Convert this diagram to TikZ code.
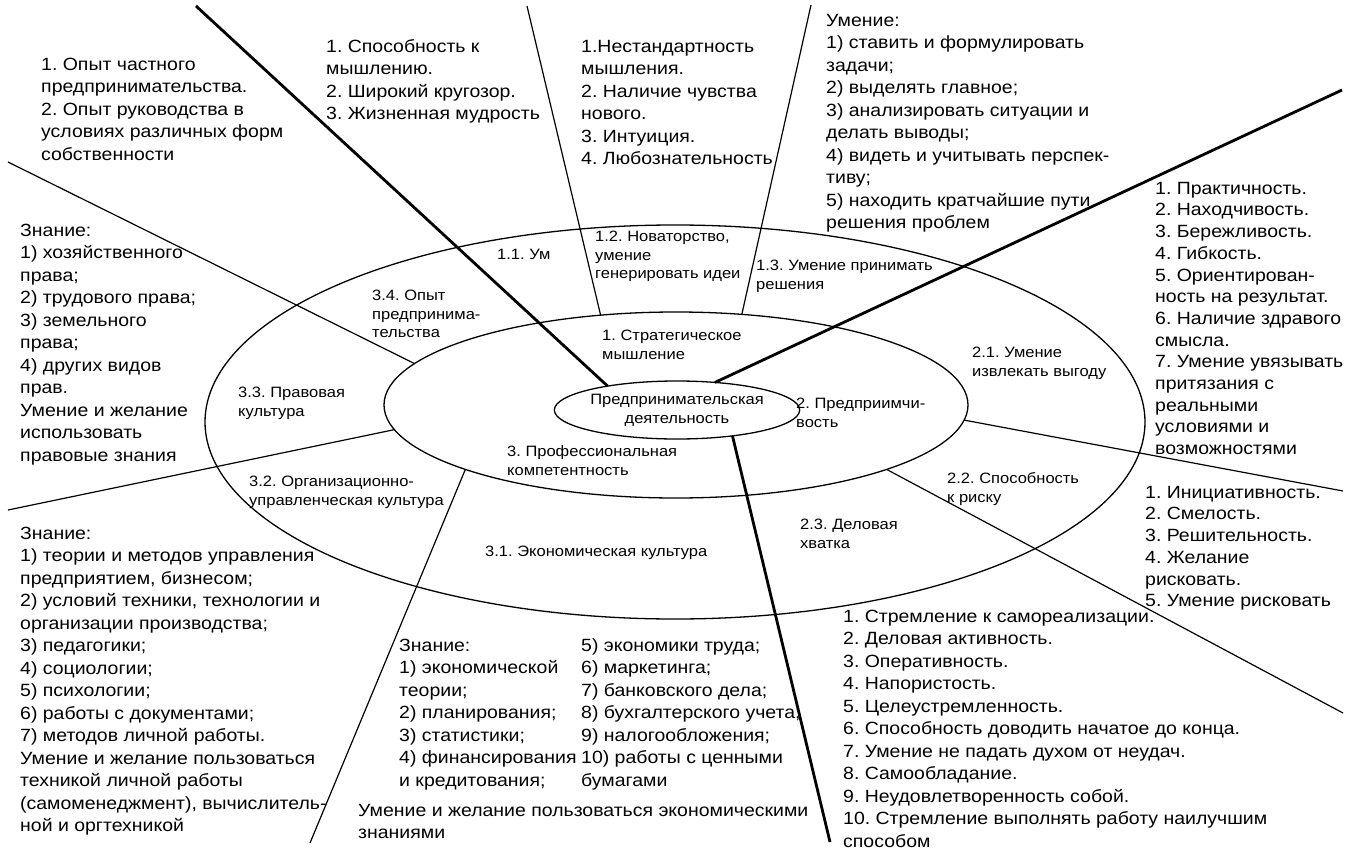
\documentclass[tikz,border=0pt]{standalone}
\usepackage{fontspec}
\setmainfont[FakeStretch=1.1]{Liberation Sans}
\usetikzlibrary{shapes.geometric}
\newcommand\bigstr{\rule{0pt}{15pt}}
\newcommand\smlstr{\rule{0pt}{12.5pt}}
\frenchspacing
\begin{document}
\frenchspacing
\begin{tikzpicture}[x=1pt,y=-1pt,
  big/.style={anchor=north west, inner sep=0pt, align=left, font=\fontsize{17.7}{22.5}\selectfont\frenchspacing},
  bigt/.style={big, font=\fontsize{17.7}{21.7}\selectfont\frenchspacing},
  sml/.style={anchor=north west, inner sep=0pt, align=left, font=\fontsize{15}{18.8}\selectfont\frenchspacing},
  thinline/.style={line width=1.2pt},
  thickline/.style={line width=2.8pt},
  ell/.style={draw, ellipse, line width=1.3pt, inner sep=0pt, outer sep=0pt}]
\useasboundingbox[fill=white] (0,0) rectangle (1366,854);

% ellipses
\node[ell, minimum width=940pt, minimum height=394pt] (O) at (675,422) {};
\node[ell, minimum width=584pt, minimum height=186pt] (M) at (676,405) {};
\node[ell, minimum width=216pt, minimum height=58pt, align=center,
      font=\fontsize{15}{19}\selectfont] (I) at (677,410) {Предпринимательская\\деятельность};

% free ends
\coordinate (c1) at (196,6);
\coordinate (c2) at (1342,90);
\coordinate (c3) at (830,842);
\coordinate (c4) at (527,6);
\coordinate (c5) at (811,5);
\coordinate (c6) at (8,162);
\coordinate (c7) at (8,510);
\coordinate (c8) at (310,843);
\coordinate (c9) at (1343,491);
\coordinate (c10) at (1343,713);

% spokes
\draw[thickline] (c1) -- (I.161.6);
\draw[thickline] (c2) -- (I.36.4);
\draw[thickline] (I.-25.7) -- (c3);
\draw[thinline] (c4) -- (M.130.2);
\draw[thinline] (c5) -- (M.54.9);
\draw[thinline] (c6) -- (M.171.5);
\draw[thinline] (c7) -- (M.185.7);
\draw[thinline] (M.197.7) -- (c8);
\draw[thinline] (M.-3.2) -- (c9);
\draw[thinline] (M.-17.9) -- (c10);

% labels inside ellipses
\node[sml] (l11) at (497,246.5) {\smlstr 1.1. Ум};
\node[sml] (l12) at (595,228.5) {\smlstr 1.2. Новаторство,\\умение\\генерировать идеи};
\node[sml] (l13) at (756,257.5) {\smlstr 1.3. Умение принимать\\решения};
\node[sml] (l34) at (372,287.5) {\smlstr 3.4. Опыт\\предпринима-\\тельства};
\node[sml] (l1) at (602,327.5) {\smlstr 1. Стратегическое\\мышление};
\node[sml] (l21) at (972,344.5) {\smlstr 2.1. Умение\\извлекать выгоду};
\node[sml] (l33) at (238,384.5) {\smlstr 3.3. Правовая\\культура};
\node[sml] (l2) at (796,395.5) {\smlstr 2. Предприимчи-\\вость};
\node[sml] (l3) at (507,443.5) {\smlstr 3. Профессиональная\\компетентность};
\node[sml] (l22) at (947,470.5) {\smlstr 2.2. Способность\\к риску};
\node[sml] (l32) at (249,473.5) {\smlstr 3.2. Организационно-\\управленческая культура};
\node[sml] (l23) at (800,516.5) {\smlstr 2.3. Деловая\\хватка};
\node[sml] (l31) at (485,543.5) {\smlstr 3.1. Экономическая культура};

% outer text blocks
\node[big] (tA) at (41,55) {\bigstr 1. Опыт частного\\предпринимательства.\\2. Опыт руководства в\\условиях различных форм\\собственности};
\node[big] (tB) at (326,37) {\bigstr 1. Способность к\\мышлению.\\2. Широкий кругозор.\\3. Жизненная мудрость};
\node[big] (tC) at (581,37) {\bigstr 1.Нестандартность\\мышления.\\2. Наличие чувства\\нового.\\3. Интуиция.\\4. Любознательность};
\node[big] (tD) at (826,11) {\bigstr Умение:\\1) ставить и формулировать\\задачи;\\2) выделять главное;\\3) анализировать ситуации и\\делать выводы;\\4) видеть и учитывать перспек-\\тиву;\\5) находить кратчайшие пути\\решения проблем};
\node[bigt] (tE) at (1155,179) {\bigstr 1. Практичность.\\2. Находчивость.\\3. Бережливость.\\4. Гибкость.\\5. Ориентирован-\\ность на результат.\\6. Наличие здравого\\смысла.\\7. Умение увязывать\\притязания с\\реальными\\условиями и\\возможностями};
\node[big] (tF) at (20,221) {\bigstr Знание:\\1) хозяйственного\\права;\\2) трудового права;\\3) земельного\\права;\\4) других видов\\прав.\\Умение и желание\\использовать\\правовые знания};
\node[bigt] (tJ) at (1145,483) {\bigstr 1. Инициативность.\\2. Смелость.\\3. Решительность.\\4. Желание\\рисковать.\\5. Умение рисковать};
\node[big] (tG) at (20,524) {\bigstr Знание:\\1) теории и методов управления\\предприятием, бизнесом;\\2) условий техники, технологии и\\организации производства;\\3) педагогики;\\4) социологии;\\5) психологии;\\6) работы с документами;\\7) методов личной работы.\\Умение и желание пользоваться\\техникой личной работы\\(самоменеджмент), вычислитель-\\ной и оргтехникой};
\node[big] (tH1) at (399,636) {\bigstr Знание:\\1) экономической\\теории;\\2) планирования;\\3) статистики;\\4) финансирования\\и кредитования;};
\node[big] (tH2) at (581,636) {\bigstr 5) экономики труда;\\6) маркетинга;\\7) банковского дела;\\8) бухгалтерского учета;\\9) налогообложения;\\10) работы с ценными\\бумагами};
\node[big] (tH3) at (358,801) {\bigstr Умение и желание пользоваться экономическими\\знаниями};
\node[big] (tI) at (843,607) {\bigstr 1. Стремление к самореализации.\\2. Деловая активность.\\3. Оперативность.\\4. Напористость.\\5. Целеустремленность.\\6. Способность доводить начатое до конца.\\7. Умение не падать духом от неудач.\\8. Самообладание.\\9. Неудовлетворенность собой.\\10. Стремление выполнять работу наилучшим\\способом};
\end{tikzpicture}
\end{document}
